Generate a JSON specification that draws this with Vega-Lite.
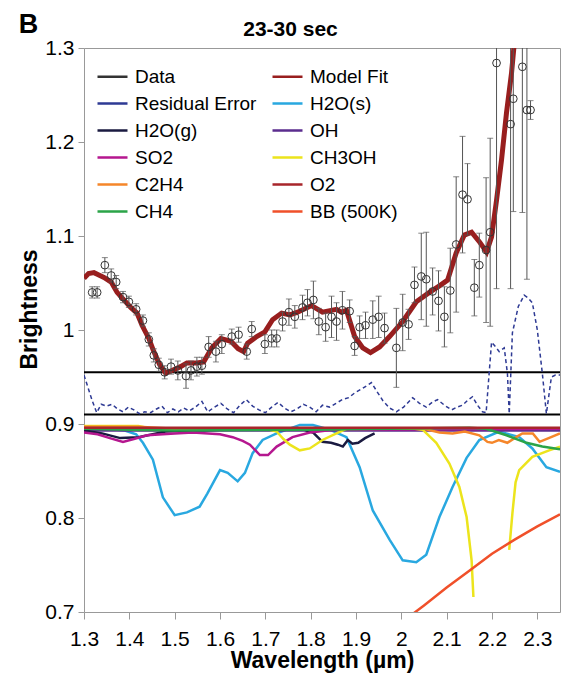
{
  "$schema": "https://vega.github.io/schema/vega-lite/v6.json",
  "width": 476,
  "height": 564,
  "autosize": "none",
  "padding": {"left": 84, "top": 48, "right": 3, "bottom": 82},
  "title": {"text": "B", "anchor": "start", "frame": "bounds", "fontSize": 27, "fontWeight": "bold", "font": "Liberation Sans", "color": "#000", "offset": -42, "baseline": "alphabetic"},
  "config": {
    "font": "Liberation Sans",
    "view": {"stroke": "#999", "strokeWidth": 1},
    "axis": {"labelFont": "Liberation Sans", "labelFontSize": 21, "labelColor": "#000", "tickColor": "#999", "titleFont": "Liberation Sans", "titleFontSize": 23, "titleFontWeight": "bold", "titleColor": "#000", "grid": false, "domain": false, "labelFlush": false, "labelOverlap": false},
    "legend": {"orient": "top-left", "offset": 12, "columns": 2, "labelFont": "Liberation Sans", "labelFontSize": 19, "labelColor": "#000", "symbolSize": 500, "symbolType": "stroke", "labelOffset": 6, "rowPadding": -1, "columnPadding": 10, "padding": 0, "labelLimit": 300}
  },
  "datasets": {
    "pts": [
      {"s":"Data","x":1.318,"y":1.040,"lo":1.034,"hi":1.046},
      {"s":"Data","x":1.329,"y":1.040,"lo":1.034,"hi":1.046},
      {"s":"Data","x":1.346,"y":1.069,"lo":1.061,"hi":1.077},
      {"s":"Data","x":1.360,"y":1.058,"lo":1.051,"hi":1.065},
      {"s":"Data","x":1.371,"y":1.051,"lo":1.044,"hi":1.058},
      {"s":"Data","x":1.386,"y":1.035,"lo":1.029,"hi":1.041},
      {"s":"Data","x":1.399,"y":1.030,"lo":1.024,"hi":1.036},
      {"s":"Data","x":1.415,"y":1.022,"lo":1.016,"hi":1.028},
      {"s":"Data","x":1.430,"y":1.010,"lo":1.004,"hi":1.016},
      {"s":"Data","x":1.443,"y":0.990,"lo":0.983,"hi":0.997},
      {"s":"Data","x":1.454,"y":0.973,"lo":0.966,"hi":0.980},
      {"s":"Data","x":1.465,"y":0.963,"lo":0.956,"hi":0.970},
      {"s":"Data","x":1.478,"y":0.955,"lo":0.948,"hi":0.962},
      {"s":"Data","x":1.492,"y":0.961,"lo":0.953,"hi":0.969},
      {"s":"Data","x":1.507,"y":0.957,"lo":0.947,"hi":0.967},
      {"s":"Data","x":1.525,"y":0.951,"lo":0.938,"hi":0.964},
      {"s":"Data","x":1.536,"y":0.957,"lo":0.947,"hi":0.967},
      {"s":"Data","x":1.549,"y":0.961,"lo":0.951,"hi":0.971},
      {"s":"Data","x":1.560,"y":0.962,"lo":0.953,"hi":0.971},
      {"s":"Data","x":1.575,"y":0.982,"lo":0.971,"hi":0.993},
      {"s":"Data","x":1.591,"y":0.977,"lo":0.966,"hi":0.988},
      {"s":"Data","x":1.604,"y":0.985,"lo":0.975,"hi":0.995},
      {"s":"Data","x":1.626,"y":0.993,"lo":0.985,"hi":1.001},
      {"s":"Data","x":1.641,"y":0.995,"lo":0.987,"hi":1.003},
      {"s":"Data","x":1.659,"y":0.977,"lo":0.969,"hi":0.985},
      {"s":"Data","x":1.670,"y":1.001,"lo":0.993,"hi":1.009},
      {"s":"Data","x":1.699,"y":0.985,"lo":0.975,"hi":0.995},
      {"s":"Data","x":1.714,"y":0.991,"lo":0.982,"hi":1.000},
      {"s":"Data","x":1.725,"y":0.991,"lo":0.982,"hi":1.000},
      {"s":"Data","x":1.738,"y":1.009,"lo":0.999,"hi":1.019},
      {"s":"Data","x":1.752,"y":1.019,"lo":1.005,"hi":1.033},
      {"s":"Data","x":1.765,"y":1.014,"lo":1.002,"hi":1.026},
      {"s":"Data","x":1.782,"y":1.024,"lo":1.011,"hi":1.037},
      {"s":"Data","x":1.793,"y":1.029,"lo":1.015,"hi":1.043},
      {"s":"Data","x":1.806,"y":1.032,"lo":1.012,"hi":1.052},
      {"s":"Data","x":1.818,"y":1.009,"lo":0.995,"hi":1.023},
      {"s":"Data","x":1.833,"y":1.003,"lo":0.988,"hi":1.018},
      {"s":"Data","x":1.846,"y":1.014,"lo":0.992,"hi":1.036},
      {"s":"Data","x":1.857,"y":1.009,"lo":0.989,"hi":1.029},
      {"s":"Data","x":1.870,"y":1.021,"lo":1.001,"hi":1.041},
      {"s":"Data","x":1.886,"y":1.020,"lo":1.008,"hi":1.032},
      {"s":"Data","x":1.897,"y":0.983,"lo":0.973,"hi":0.993},
      {"s":"Data","x":1.908,"y":1.003,"lo":0.991,"hi":1.015},
      {"s":"Data","x":1.921,"y":1.005,"lo":0.991,"hi":1.019},
      {"s":"Data","x":1.937,"y":1.011,"lo":0.991,"hi":1.031},
      {"s":"Data","x":1.950,"y":1.014,"lo":0.992,"hi":1.036},
      {"s":"Data","x":1.963,"y":1.002,"lo":0.986,"hi":1.018},
      {"s":"Data","x":1.989,"y":0.981,"lo":0.939,"hi":1.023},
      {"s":"Data","x":2.003,"y":1.008,"lo":0.978,"hi":1.038},
      {"s":"Data","x":2.016,"y":1.006,"lo":0.990,"hi":1.022},
      {"s":"Data","x":2.029,"y":1.048,"lo":1.029,"hi":1.067},
      {"s":"Data","x":2.044,"y":1.057,"lo":1.011,"hi":1.103},
      {"s":"Data","x":2.055,"y":1.054,"lo":1.004,"hi":1.104},
      {"s":"Data","x":2.069,"y":1.041,"lo":1.016,"hi":1.066},
      {"s":"Data","x":2.082,"y":1.031,"lo":0.999,"hi":1.063},
      {"s":"Data","x":2.095,"y":1.014,"lo":0.982,"hi":1.046},
      {"s":"Data","x":2.108,"y":1.042,"lo":0.997,"hi":1.087},
      {"s":"Data","x":2.121,"y":1.091,"lo":1.019,"hi":1.163},
      {"s":"Data","x":2.135,"y":1.144,"lo":1.082,"hi":1.206},
      {"s":"Data","x":2.146,"y":1.139,"lo":1.101,"hi":1.177},
      {"s":"Data","x":2.161,"y":1.045,"lo":1.015,"hi":1.075},
      {"s":"Data","x":2.172,"y":1.069,"lo":1.035,"hi":1.103},
      {"s":"Data","x":2.187,"y":1.085,"lo":1.008,"hi":1.162},
      {"s":"Data","x":2.196,"y":1.104,"lo":1.004,"hi":1.204},
      {"s":"Data","x":2.210,"y":1.284,"lo":1.044,"hi":1.524},
      {"s":"Data","x":2.241,"y":1.219,"lo":1.044,"hi":1.394},
      {"s":"Data","x":2.247,"y":1.246,"lo":1.126,"hi":1.366},
      {"s":"Data","x":2.267,"y":1.280,"lo":1.125,"hi":1.435},
      {"s":"Data","x":2.277,"y":1.234,"lo":1.054,"hi":1.414},
      {"s":"Data","x":2.285,"y":1.234,"lo":1.224,"hi":1.244}
    ],
    "fit": [
      {"s":"Model Fit","x":1.300,"y":1.055},{"s":"Model Fit","x":1.310,"y":1.060},{"s":"Model Fit","x":1.322,"y":1.061},{"s":"Model Fit","x":1.335,"y":1.058},
      {"s":"Model Fit","x":1.344,"y":1.056},{"s":"Model Fit","x":1.360,"y":1.051},{"s":"Model Fit","x":1.373,"y":1.040},{"s":"Model Fit","x":1.388,"y":1.032},
      {"s":"Model Fit","x":1.403,"y":1.024},{"s":"Model Fit","x":1.417,"y":1.018},{"s":"Model Fit","x":1.428,"y":1.005},{"s":"Model Fit","x":1.443,"y":0.991},
      {"s":"Model Fit","x":1.454,"y":0.977},{"s":"Model Fit","x":1.467,"y":0.963},{"s":"Model Fit","x":1.480,"y":0.954},{"s":"Model Fit","x":1.494,"y":0.957},
      {"s":"Model Fit","x":1.513,"y":0.961},{"s":"Model Fit","x":1.527,"y":0.965},{"s":"Model Fit","x":1.549,"y":0.965},{"s":"Model Fit","x":1.564,"y":0.966},
      {"s":"Model Fit","x":1.582,"y":0.981},{"s":"Model Fit","x":1.602,"y":0.991},{"s":"Model Fit","x":1.624,"y":0.988},{"s":"Model Fit","x":1.640,"y":0.980},
      {"s":"Model Fit","x":1.652,"y":0.977},{"s":"Model Fit","x":1.661,"y":0.986},{"s":"Model Fit","x":1.681,"y":0.993},{"s":"Model Fit","x":1.699,"y":0.998},
      {"s":"Model Fit","x":1.716,"y":1.011},{"s":"Model Fit","x":1.736,"y":1.018},{"s":"Model Fit","x":1.754,"y":1.016},{"s":"Model Fit","x":1.771,"y":1.019},
      {"s":"Model Fit","x":1.802,"y":1.026},{"s":"Model Fit","x":1.826,"y":1.019},{"s":"Model Fit","x":1.857,"y":1.022},{"s":"Model Fit","x":1.868,"y":1.019},
      {"s":"Model Fit","x":1.879,"y":1.021},{"s":"Model Fit","x":1.897,"y":0.993},{"s":"Model Fit","x":1.915,"y":0.981},{"s":"Model Fit","x":1.932,"y":0.976},
      {"s":"Model Fit","x":1.952,"y":0.982},{"s":"Model Fit","x":1.974,"y":0.993},{"s":"Model Fit","x":2.003,"y":1.009},{"s":"Model Fit","x":2.033,"y":1.030},
      {"s":"Model Fit","x":2.062,"y":1.040},{"s":"Model Fit","x":2.084,"y":1.047},{"s":"Model Fit","x":2.102,"y":1.053},{"s":"Model Fit","x":2.121,"y":1.082},
      {"s":"Model Fit","x":2.139,"y":1.101},{"s":"Model Fit","x":2.155,"y":1.104},{"s":"Model Fit","x":2.172,"y":1.094},{"s":"Model Fit","x":2.188,"y":1.083},
      {"s":"Model Fit","x":2.199,"y":1.099},{"s":"Model Fit","x":2.210,"y":1.138},{"s":"Model Fit","x":2.221,"y":1.181},{"s":"Model Fit","x":2.232,"y":1.231},
      {"s":"Model Fit","x":2.243,"y":1.273},{"s":"Model Fit","x":2.252,"y":1.320}
    ],
    "resid": [
      {"s":"Residual Error","x":1.300,"y":0.952},{"s":"Residual Error","x":1.308,"y":0.940},{"s":"Residual Error","x":1.318,"y":0.925},{"s":"Residual Error","x":1.328,"y":0.912},
      {"s":"Residual Error","x":1.338,"y":0.921},{"s":"Residual Error","x":1.350,"y":0.919},{"s":"Residual Error","x":1.362,"y":0.921},{"s":"Residual Error","x":1.374,"y":0.916},
      {"s":"Residual Error","x":1.386,"y":0.913},{"s":"Residual Error","x":1.398,"y":0.918},{"s":"Residual Error","x":1.410,"y":0.915},{"s":"Residual Error","x":1.422,"y":0.911},
      {"s":"Residual Error","x":1.434,"y":0.913},{"s":"Residual Error","x":1.447,"y":0.912},{"s":"Residual Error","x":1.460,"y":0.916},{"s":"Residual Error","x":1.472,"y":0.919},
      {"s":"Residual Error","x":1.484,"y":0.912},{"s":"Residual Error","x":1.496,"y":0.916},{"s":"Residual Error","x":1.508,"y":0.913},{"s":"Residual Error","x":1.520,"y":0.917},
      {"s":"Residual Error","x":1.532,"y":0.914},{"s":"Residual Error","x":1.546,"y":0.918},{"s":"Residual Error","x":1.560,"y":0.924},{"s":"Residual Error","x":1.573,"y":0.913},
      {"s":"Residual Error","x":1.588,"y":0.918},{"s":"Residual Error","x":1.602,"y":0.922},{"s":"Residual Error","x":1.616,"y":0.916},{"s":"Residual Error","x":1.630,"y":0.912},
      {"s":"Residual Error","x":1.644,"y":0.920},{"s":"Residual Error","x":1.658,"y":0.926},{"s":"Residual Error","x":1.672,"y":0.919},{"s":"Residual Error","x":1.686,"y":0.915},
      {"s":"Residual Error","x":1.700,"y":0.912},{"s":"Residual Error","x":1.714,"y":0.918},{"s":"Residual Error","x":1.728,"y":0.923},{"s":"Residual Error","x":1.742,"y":0.917},
      {"s":"Residual Error","x":1.756,"y":0.913},{"s":"Residual Error","x":1.770,"y":0.916},{"s":"Residual Error","x":1.784,"y":0.921},{"s":"Residual Error","x":1.798,"y":0.918},
      {"s":"Residual Error","x":1.812,"y":0.913},{"s":"Residual Error","x":1.826,"y":0.920},{"s":"Residual Error","x":1.842,"y":0.918},{"s":"Residual Error","x":1.856,"y":0.922},
      {"s":"Residual Error","x":1.870,"y":0.926},{"s":"Residual Error","x":1.884,"y":0.928},{"s":"Residual Error","x":1.897,"y":0.933},{"s":"Residual Error","x":1.915,"y":0.938},
      {"s":"Residual Error","x":1.934,"y":0.944},{"s":"Residual Error","x":1.947,"y":0.934},{"s":"Residual Error","x":1.959,"y":0.925},{"s":"Residual Error","x":1.974,"y":0.917},
      {"s":"Residual Error","x":1.989,"y":0.913},{"s":"Residual Error","x":2.005,"y":0.918},{"s":"Residual Error","x":2.025,"y":0.928},{"s":"Residual Error","x":2.040,"y":0.922},
      {"s":"Residual Error","x":2.055,"y":0.918},{"s":"Residual Error","x":2.068,"y":0.923},{"s":"Residual Error","x":2.080,"y":0.926},{"s":"Residual Error","x":2.095,"y":0.920},
      {"s":"Residual Error","x":2.111,"y":0.915},{"s":"Residual Error","x":2.123,"y":0.918},{"s":"Residual Error","x":2.135,"y":0.920},{"s":"Residual Error","x":2.146,"y":0.925},
      {"s":"Residual Error","x":2.157,"y":0.929},{"s":"Residual Error","x":2.168,"y":0.920},{"s":"Residual Error","x":2.179,"y":0.913},{"s":"Residual Error","x":2.187,"y":0.912},
      {"s":"Residual Error","x":2.199,"y":0.987},{"s":"Residual Error","x":2.208,"y":0.982},{"s":"Residual Error","x":2.216,"y":0.977},{"s":"Residual Error","x":2.227,"y":0.981},
      {"s":"Residual Error","x":2.234,"y":0.954},{"s":"Residual Error","x":2.238,"y":0.911},{"s":"Residual Error","x":2.245,"y":0.997},{"s":"Residual Error","x":2.258,"y":1.025},
      {"s":"Residual Error","x":2.271,"y":1.037},{"s":"Residual Error","x":2.280,"y":1.034},{"s":"Residual Error","x":2.289,"y":1.029},{"s":"Residual Error","x":2.300,"y":1.000},
      {"s":"Residual Error","x":2.311,"y":0.954},{"s":"Residual Error","x":2.320,"y":0.911},{"s":"Residual Error","x":2.331,"y":0.950},{"s":"Residual Error","x":2.340,"y":0.952},
      {"s":"Residual Error","x":2.350,"y":0.952}
    ],
    "hl": [{"y":0.955},{"y":0.91}],
    "comp": [
      {"s":"H2O(s)","part":"a","x":1.300,"y":0.894},
      {"s":"H2O(s)","part":"a","x":1.350,"y":0.895},
      {"s":"H2O(s)","part":"a","x":1.390,"y":0.893},
      {"s":"H2O(s)","part":"a","x":1.415,"y":0.889},
      {"s":"H2O(s)","part":"a","x":1.430,"y":0.880},
      {"s":"H2O(s)","part":"a","x":1.452,"y":0.862},
      {"s":"H2O(s)","part":"a","x":1.474,"y":0.822},
      {"s":"H2O(s)","part":"a","x":1.500,"y":0.803},
      {"s":"H2O(s)","part":"a","x":1.527,"y":0.806},
      {"s":"H2O(s)","part":"a","x":1.555,"y":0.812},
      {"s":"H2O(s)","part":"a","x":1.572,"y":0.826},
      {"s":"H2O(s)","part":"a","x":1.600,"y":0.851},
      {"s":"H2O(s)","part":"a","x":1.617,"y":0.848},
      {"s":"H2O(s)","part":"a","x":1.639,"y":0.839},
      {"s":"H2O(s)","part":"a","x":1.655,"y":0.848},
      {"s":"H2O(s)","part":"a","x":1.672,"y":0.869},
      {"s":"H2O(s)","part":"a","x":1.694,"y":0.883},
      {"s":"H2O(s)","part":"a","x":1.725,"y":0.890},
      {"s":"H2O(s)","part":"a","x":1.776,"y":0.899},
      {"s":"H2O(s)","part":"a","x":1.805,"y":0.899},
      {"s":"H2O(s)","part":"a","x":1.842,"y":0.894},
      {"s":"H2O(s)","part":"a","x":1.879,"y":0.886},
      {"s":"H2O(s)","part":"a","x":1.908,"y":0.854},
      {"s":"H2O(s)","part":"a","x":1.937,"y":0.808},
      {"s":"H2O(s)","part":"a","x":1.974,"y":0.777},
      {"s":"H2O(s)","part":"a","x":2.003,"y":0.755},
      {"s":"H2O(s)","part":"a","x":2.033,"y":0.753},
      {"s":"H2O(s)","part":"a","x":2.055,"y":0.761},
      {"s":"H2O(s)","part":"a","x":2.084,"y":0.801},
      {"s":"H2O(s)","part":"a","x":2.113,"y":0.833},
      {"s":"H2O(s)","part":"a","x":2.144,"y":0.864},
      {"s":"H2O(s)","part":"a","x":2.172,"y":0.883},
      {"s":"H2O(s)","part":"a","x":2.216,"y":0.892},
      {"s":"H2O(s)","part":"a","x":2.260,"y":0.886},
      {"s":"H2O(s)","part":"a","x":2.289,"y":0.874},
      {"s":"H2O(s)","part":"a","x":2.320,"y":0.854},
      {"s":"H2O(s)","part":"a","x":2.350,"y":0.849},
      {"s":"OH","part":"a","x":1.300,"y":0.893},
      {"s":"OH","part":"a","x":2.350,"y":0.893},
      {"s":"H2O(g)","part":"a","x":1.300,"y":0.893},
      {"s":"H2O(g)","part":"a","x":1.340,"y":0.890},
      {"s":"H2O(g)","part":"a","x":1.380,"y":0.885},
      {"s":"H2O(g)","part":"a","x":1.420,"y":0.886},
      {"s":"H2O(g)","part":"a","x":1.480,"y":0.892},
      {"s":"H2O(g)","part":"a","x":1.600,"y":0.894},
      {"s":"H2O(g)","part":"a","x":1.700,"y":0.895},
      {"s":"H2O(g)","part":"a","x":1.780,"y":0.895},
      {"s":"H2O(g)","part":"a","x":1.805,"y":0.891},
      {"s":"H2O(g)","part":"a","x":1.826,"y":0.881},
      {"s":"H2O(g)","part":"a","x":1.845,"y":0.880},
      {"s":"H2O(g)","part":"a","x":1.860,"y":0.878},
      {"s":"H2O(g)","part":"a","x":1.871,"y":0.876},
      {"s":"H2O(g)","part":"a","x":1.882,"y":0.883},
      {"s":"H2O(g)","part":"a","x":1.892,"y":0.879},
      {"s":"H2O(g)","part":"a","x":1.905,"y":0.880},
      {"s":"H2O(g)","part":"a","x":1.920,"y":0.885},
      {"s":"H2O(g)","part":"a","x":1.941,"y":0.890},
      {"s":"SO2","part":"a","x":1.300,"y":0.891},
      {"s":"SO2","part":"a","x":1.330,"y":0.889},
      {"s":"SO2","part":"a","x":1.357,"y":0.885},
      {"s":"SO2","part":"a","x":1.386,"y":0.881},
      {"s":"SO2","part":"a","x":1.410,"y":0.884},
      {"s":"SO2","part":"a","x":1.439,"y":0.888},
      {"s":"SO2","part":"a","x":1.500,"y":0.890},
      {"s":"SO2","part":"a","x":1.540,"y":0.891},
      {"s":"SO2","part":"a","x":1.600,"y":0.889},
      {"s":"SO2","part":"a","x":1.628,"y":0.886},
      {"s":"SO2","part":"a","x":1.650,"y":0.882},
      {"s":"SO2","part":"a","x":1.666,"y":0.878},
      {"s":"SO2","part":"a","x":1.688,"y":0.867},
      {"s":"SO2","part":"a","x":1.706,"y":0.867},
      {"s":"SO2","part":"a","x":1.725,"y":0.876},
      {"s":"SO2","part":"a","x":1.760,"y":0.886},
      {"s":"SO2","part":"a","x":1.798,"y":0.891},
      {"s":"SO2","part":"a","x":1.850,"y":0.894},
      {"s":"SO2","part":"a","x":2.350,"y":0.895},
      {"s":"CH3OH","part":"a","x":1.300,"y":0.898},
      {"s":"CH3OH","part":"a","x":1.420,"y":0.898},
      {"s":"CH3OH","part":"a","x":1.450,"y":0.895},
      {"s":"CH3OH","part":"a","x":1.700,"y":0.895},
      {"s":"CH3OH","part":"a","x":1.725,"y":0.892},
      {"s":"CH3OH","part":"a","x":1.740,"y":0.884},
      {"s":"CH3OH","part":"a","x":1.754,"y":0.878},
      {"s":"CH3OH","part":"a","x":1.776,"y":0.872},
      {"s":"CH3OH","part":"a","x":1.798,"y":0.874},
      {"s":"CH3OH","part":"a","x":1.826,"y":0.883},
      {"s":"CH3OH","part":"a","x":1.857,"y":0.890},
      {"s":"CH3OH","part":"a","x":1.880,"y":0.895},
      {"s":"CH3OH","part":"a","x":2.030,"y":0.895},
      {"s":"CH3OH","part":"a","x":2.047,"y":0.894},
      {"s":"CH3OH","part":"a","x":2.077,"y":0.880},
      {"s":"CH3OH","part":"a","x":2.106,"y":0.858},
      {"s":"CH3OH","part":"a","x":2.128,"y":0.833},
      {"s":"CH3OH","part":"a","x":2.144,"y":0.801},
      {"s":"CH3OH","part":"a","x":2.155,"y":0.755},
      {"s":"CH3OH","part":"a","x":2.159,"y":0.716},
      {"s":"CH3OH","part":"b","x":2.238,"y":0.766},
      {"s":"CH3OH","part":"b","x":2.245,"y":0.805},
      {"s":"CH3OH","part":"b","x":2.252,"y":0.838},
      {"s":"CH3OH","part":"b","x":2.260,"y":0.851},
      {"s":"CH3OH","part":"b","x":2.289,"y":0.865},
      {"s":"CH3OH","part":"b","x":2.326,"y":0.872},
      {"s":"CH3OH","part":"b","x":2.350,"y":0.876},
      {"s":"C2H4","part":"a","x":1.300,"y":0.897},
      {"s":"C2H4","part":"a","x":1.420,"y":0.897},
      {"s":"C2H4","part":"a","x":1.500,"y":0.895},
      {"s":"C2H4","part":"a","x":2.050,"y":0.895},
      {"s":"C2H4","part":"a","x":2.084,"y":0.891},
      {"s":"C2H4","part":"a","x":2.113,"y":0.890},
      {"s":"C2H4","part":"a","x":2.140,"y":0.892},
      {"s":"C2H4","part":"a","x":2.172,"y":0.888},
      {"s":"C2H4","part":"a","x":2.190,"y":0.881},
      {"s":"C2H4","part":"a","x":2.200,"y":0.880},
      {"s":"C2H4","part":"a","x":2.215,"y":0.883},
      {"s":"C2H4","part":"a","x":2.234,"y":0.880},
      {"s":"C2H4","part":"a","x":2.253,"y":0.886},
      {"s":"C2H4","part":"a","x":2.267,"y":0.890},
      {"s":"C2H4","part":"a","x":2.290,"y":0.890},
      {"s":"C2H4","part":"a","x":2.305,"y":0.881},
      {"s":"C2H4","part":"a","x":2.325,"y":0.885},
      {"s":"C2H4","part":"a","x":2.350,"y":0.890},
      {"s":"CH4","part":"a","x":1.300,"y":0.895},
      {"s":"CH4","part":"a","x":1.400,"y":0.894},
      {"s":"CH4","part":"a","x":1.500,"y":0.893},
      {"s":"CH4","part":"a","x":1.800,"y":0.894},
      {"s":"CH4","part":"a","x":2.150,"y":0.896},
      {"s":"CH4","part":"a","x":2.187,"y":0.895},
      {"s":"CH4","part":"a","x":2.232,"y":0.888},
      {"s":"CH4","part":"a","x":2.276,"y":0.880},
      {"s":"CH4","part":"a","x":2.311,"y":0.876},
      {"s":"CH4","part":"a","x":2.350,"y":0.873},
      {"s":"O2","part":"a","x":1.300,"y":0.896},
      {"s":"O2","part":"a","x":2.350,"y":0.896},
      {"s":"BB (500K)","part":"a","x":2.020,"y":0.696},
      {"s":"BB (500K)","part":"a","x":2.050,"y":0.707},
      {"s":"BB (500K)","part":"a","x":2.100,"y":0.726},
      {"s":"BB (500K)","part":"a","x":2.150,"y":0.744},
      {"s":"BB (500K)","part":"a","x":2.200,"y":0.762},
      {"s":"BB (500K)","part":"a","x":2.250,"y":0.777},
      {"s":"BB (500K)","part":"a","x":2.300,"y":0.791},
      {"s":"BB (500K)","part":"a","x":2.350,"y":0.804}
    ]
  },
  "resolve": {"axis": {"x": "independent"}},
  "layer": [
    {
      "data": {"name": "comp"},
      "mark": {"type": "line", "strokeWidth": 2.5, "clip": true},
      "encoding": {
        "x": {"field": "x", "type": "quantitative", "title": "Wavelength (µm)", "scale": {"domain": [1.3, 2.35], "nice": false, "zero": false},
              "axis": {"orient": "bottom", "values": [1.3,1.4,1.5,1.6,1.7,1.8,1.9,2.0,2.1,2.2,2.3], "format": "~g", "tickSize": 7, "labelPadding": 9, "titlePadding": 0, "labelFlush": false}},
        "y": {"field": "y", "type": "quantitative", "title": "Brightness", "scale": {"domain": [0.7, 1.3], "nice": false, "zero": false},
              "axis": {"values": [0.7,0.8,0.9,1.0,1.1,1.2,1.3], "format": "~g", "tickSize": 6, "labelPadding": 4, "titlePadding": 3, "titleY": 261, "labelFlush": false}},
        "color": {"field": "s", "type": "nominal",
          "scale": {"domain": ["Data","Residual Error","H2O(g)","SO2","C2H4","CH4","Model Fit","H2O(s)","OH","CH3OH","O2","BB (500K)"],
                    "range": ["#333333","#2e3a94","#1a1a40","#b5178f","#f5862a","#2ba448","#981e1e","#29a8e0","#5b2d8e","#ece41c","#a8262b","#f0502a"]},
          "legend": {"title": null,
            "encode": {"symbols": {"update": {
              "shape": {"condition": [{"test": "datum.value === 'Data'", "value": "circle"}], "value": "stroke"},
              "size": {"condition": [{"test": "datum.value === 'Data'", "value": 60}], "value": 900},
              "strokeWidth": {"condition": [{"test": "datum.value === 'Model Fit'", "value": 5}, {"test": "datum.value === 'Data'", "value": 1}, {"test": "datum.value === 'Residual Error'", "value": 1.5}], "value": 2.5},
              "strokeDash": {"condition": [{"test": "datum.value === 'Residual Error'", "value": [3, 2]}], "value": [1, 0]},
              "fill": {"value": "transparent"},
              "opacity": {"value": 1}
            }}}}},
        "detail": {"field": "part", "type": "nominal"}
      }
    },
    {
      "data": {"name": "hl"},
      "mark": {"type": "rule", "color": "#000", "strokeWidth": 2},
      "encoding": {"y": {"field": "y", "type": "quantitative", "title": "Brightness"}}
    },
    {
      "data": {"name": "resid"},
      "mark": {"type": "line", "strokeWidth": 1.5, "strokeDash": [4, 3], "clip": true},
      "encoding": {
        "x": {"field": "x", "type": "quantitative", "title": "Wavelength (µm)", "axis": null},
        "y": {"field": "y", "type": "quantitative", "title": "Brightness"},
        "color": {"field": "s", "type": "nominal", "legend": {"title": null}}
      }
    },
    {
      "data": {"name": "fit"},
      "mark": {"type": "line", "strokeWidth": 5, "clip": true},
      "encoding": {
        "x": {"field": "x", "type": "quantitative", "title": "23-30 sec",
              "axis": {"orient": "top", "labels": false, "ticks": false, "domain": false, "titleFontSize": 21, "titleX": 206, "titleY": -13, "titleBaseline": "alphabetic", "titleAlign": "center"}},
        "y": {"field": "y", "type": "quantitative", "title": "Brightness"},
        "color": {"field": "s", "type": "nominal", "legend": {"title": null}}
      }
    },
    {
      "data": {"name": "pts"},
      "mark": {"type": "rule", "strokeWidth": 1, "color": "#555555", "clip": true},
      "encoding": {
        "x": {"field": "x", "type": "quantitative", "title": "Wavelength (µm)", "axis": null},
        "y": {"field": "lo", "type": "quantitative", "title": "Brightness"},
        "y2": {"field": "hi"}
      }
    },
    {
      "data": {"name": "pts"},
      "mark": {"type": "tick", "orient": "horizontal", "size": 6, "thickness": 1, "color": "#555555", "clip": true},
      "encoding": {
        "x": {"field": "x", "type": "quantitative", "title": "Wavelength (µm)", "axis": null},
        "y": {"field": "lo", "type": "quantitative", "title": "Brightness"}
      }
    },
    {
      "data": {"name": "pts"},
      "mark": {"type": "tick", "orient": "horizontal", "size": 6, "thickness": 1, "color": "#555555", "clip": true},
      "encoding": {
        "x": {"field": "x", "type": "quantitative", "title": "Wavelength (µm)", "axis": null},
        "y": {"field": "hi", "type": "quantitative", "title": "Brightness"}
      }
    },
    {
      "data": {"name": "pts"},
      "mark": {"type": "point", "filled": false, "size": 60, "strokeWidth": 1, "opacity": 1, "clip": true},
      "encoding": {
        "x": {"field": "x", "type": "quantitative", "title": "Wavelength (µm)", "axis": null},
        "y": {"field": "y", "type": "quantitative", "title": "Brightness"},
        "color": {"field": "s", "type": "nominal", "legend": {"title": null}}
      }
    }
  ]
}
